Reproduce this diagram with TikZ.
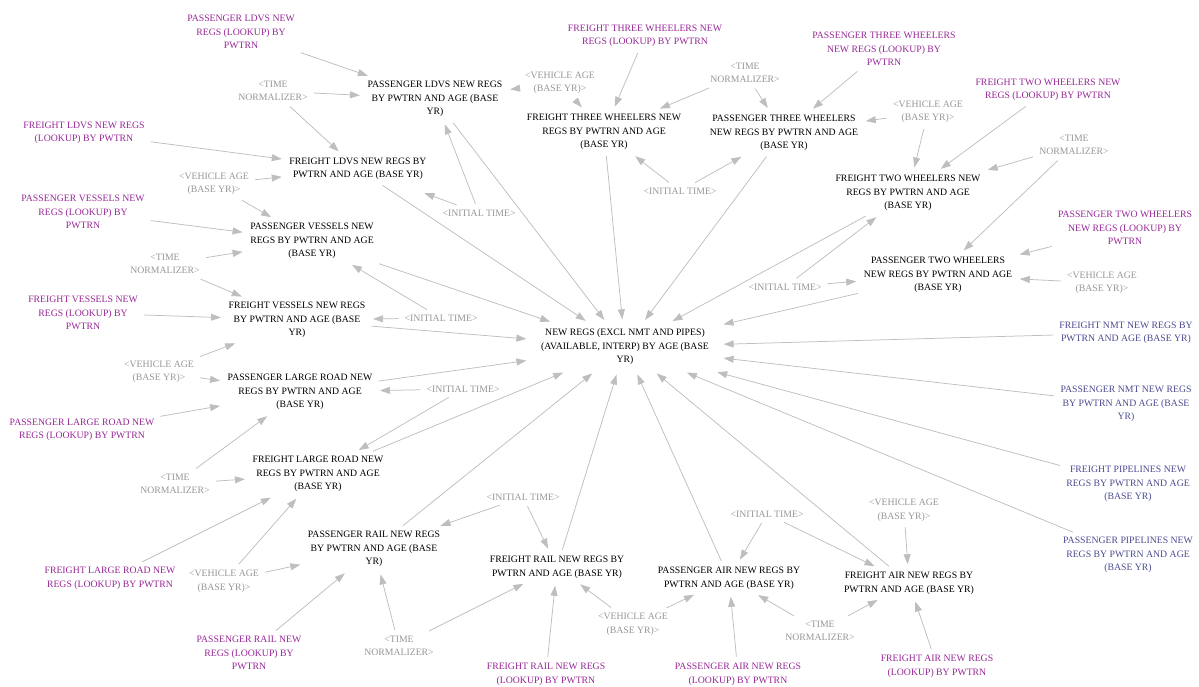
\documentclass[tikz,border=0pt]{standalone}
\usepackage{fontspec}
\setmainfont{Liberation Serif}
\usetikzlibrary{arrows.meta}
\definecolor{lookc}{RGB}{150,40,150}
\definecolor{bluc}{RGB}{75,75,145}
\definecolor{shadc}{RGB}{150,150,150}
\definecolor{arrc}{RGB}{190,190,190}
\begin{document}
\begin{tikzpicture}[x=1pt,y=-1pt,
  every node/.style={font=\fontsize{9.75}{13.6}\selectfont, align=center, inner sep=4pt},
  var/.style={text=black},
  look/.style={text=lookc},
  blu/.style={text=bluc},
  shad/.style={text=shadc},
  arr/.style={draw=arrc, line width=0.75pt, -{Triangle[length=10pt,width=7pt]}, shorten >=3.5pt, shorten <=2pt}]
\path[use as bounding box] (0,0) rectangle (1199,686);

% main
\node[var, inner xsep=11pt, inner ysep=6pt] (main) at (625,347) {NEW REGS (EXCL NMT AND PIPES)\\(AVAILABLE, INTERP) BY AGE (BASE\\YR)};

% black variables
\node[var] (pldv) at (435,99) {PASSENGER LDVS NEW REGS\\BY PWTRN AND AGE (BASE\\YR)};
\node[var] (f3) at (604,132) {FREIGHT THREE WHEELERS NEW\\REGS BY PWTRN AND AGE\\(BASE YR)};
\node[var] (p3) at (784,133) {PASSENGER THREE WHEELERS\\NEW REGS BY PWTRN AND AGE\\(BASE YR)};
\node[var] (f2) at (908,193) {FREIGHT TWO WHEELERS NEW\\REGS BY PWTRN AND AGE\\(BASE YR)};
\node[var] (p2) at (938,275) {PASSENGER TWO WHEELERS\\NEW REGS BY PWTRN AND AGE\\(BASE YR)};
\node[var] (fldv) at (358,169) {FREIGHT LDVS NEW REGS BY\\PWTRN AND AGE (BASE YR)};
\node[var] (pv) at (312,241) {PASSENGER VESSELS NEW\\REGS BY PWTRN AND AGE\\(BASE YR)};
\node[var] (fv) at (297,320) {FREIGHT VESSELS NEW REGS\\BY PWTRN AND AGE (BASE\\YR)};
\node[var] (plr) at (300,392) {PASSENGER LARGE ROAD NEW\\REGS BY PWTRN AND AGE\\(BASE YR)};
\node[var] (flr) at (318,474) {FREIGHT LARGE ROAD NEW\\REGS BY PWTRN AND AGE\\(BASE YR)};
\node[var] (pr) at (374,549) {PASSENGER RAIL NEW REGS\\BY PWTRN AND AGE (BASE\\YR)};
\node[var] (fr) at (557,567) {FREIGHT RAIL NEW REGS BY\\PWTRN AND AGE (BASE YR)};
\node[var] (pa) at (729,578) {PASSENGER AIR NEW REGS BY\\PWTRN AND AGE (BASE YR)};
\node[var] (fa) at (909,583) {FREIGHT AIR NEW REGS BY\\PWTRN AND AGE (BASE YR)};

% lookups
\node[look] (pll) at (241,32) {PASSENGER LDVS NEW\\REGS (LOOKUP) BY\\PWTRN};
\node[look] (fll) at (84,133) {FREIGHT LDVS NEW REGS\\(LOOKUP) BY PWTRN};
\node[look] (pvl) at (83,212) {PASSENGER VESSELS NEW\\REGS (LOOKUP) BY\\PWTRN};
\node[look] (fvl) at (83,313) {FREIGHT VESSELS NEW\\REGS (LOOKUP) BY\\PWTRN};
\node[look] (plrl) at (82,430) {PASSENGER LARGE ROAD NEW\\REGS (LOOKUP) BY PWTRN};
\node[look] (flrl) at (110,578) {FREIGHT LARGE ROAD NEW\\REGS (LOOKUP) BY PWTRN};
\node[look] (prl) at (249,653) {PASSENGER RAIL NEW\\REGS (LOOKUP) BY\\PWTRN};
\node[look] (frl) at (546,674) {FREIGHT RAIL NEW REGS\\(LOOKUP) BY PWTRN};
\node[look] (pal) at (738,674) {PASSENGER AIR NEW REGS\\(LOOKUP) BY PWTRN};
\node[look] (fal) at (937,666) {FREIGHT AIR NEW REGS\\(LOOKUP) BY PWTRN};
\node[look] (f3l) at (645,36) {FREIGHT THREE WHEELERS NEW\\REGS (LOOKUP) BY PWTRN};
\node[look] (p3l) at (884,49) {PASSENGER THREE WHEELERS\\NEW REGS (LOOKUP) BY\\PWTRN};
\node[look] (f2l) at (1048,90) {FREIGHT TWO WHEELERS NEW\\REGS (LOOKUP) BY PWTRN};
\node[look] (p2l) at (1125,228) {PASSENGER TWO WHEELERS\\NEW REGS (LOOKUP) BY\\PWTRN};

% blue
\node[blu] (fnmt) at (1126,333) {FREIGHT NMT NEW REGS BY\\PWTRN AND AGE (BASE YR)};
\node[blu] (pnmt) at (1126,404) {PASSENGER NMT NEW REGS\\BY PWTRN AND AGE (BASE\\YR)};
\node[blu] (fpipe) at (1128,484) {FREIGHT PIPELINES NEW\\REGS BY PWTRN AND AGE\\(BASE YR)};
\node[blu] (ppipe) at (1128,555) {PASSENGER PIPELINES NEW\\REGS BY PWTRN AND AGE\\(BASE YR)};

% shadows
\node[shad] (tn1) at (273,91) {<TIME\\NORMALIZER>};
\node[shad] (va1) at (560,83) {<VEHICLE AGE\\(BASE YR)>};
\node[shad] (tn2) at (745,73) {<TIME\\NORMALIZER>};
\node[shad] (it1) at (680,191) {<INITIAL TIME>};
\node[shad] (it2) at (479,213) {<INITIAL TIME>};
\node[shad] (va2) at (928,112) {<VEHICLE AGE\\(BASE YR)>};
\node[shad] (tn3) at (1074,145) {<TIME\\NORMALIZER>};
\node[shad] (va3) at (214,184) {<VEHICLE AGE\\(BASE YR)>};
\node[shad] (tn4) at (165,264) {<TIME\\NORMALIZER>};
\node[shad] (it3) at (785,287) {<INITIAL TIME>};
\node[shad] (va4) at (1102,283) {<VEHICLE AGE\\(BASE YR)>};
\node[shad] (it4) at (441,318) {<INITIAL TIME>};
\node[shad] (va5) at (159,372) {<VEHICLE AGE\\(BASE YR)>};
\node[shad] (it5) at (463,389) {<INITIAL TIME>};
\node[shad] (tn5) at (175,484) {<TIME\\NORMALIZER>};
\node[shad] (va6) at (224,581) {<VEHICLE AGE\\(BASE YR)>};
\node[shad] (it6) at (523,497) {<INITIAL TIME>};
\node[shad] (tn6) at (399,646) {<TIME\\NORMALIZER>};
\node[shad] (va7) at (633,624) {<VEHICLE AGE\\(BASE YR)>};
\node[shad] (it7) at (767,514) {<INITIAL TIME>};
\node[shad] (va8) at (904,510) {<VEHICLE AGE\\(BASE YR)>};
\node[shad] (tn7) at (820,631) {<TIME\\NORMALIZER>};

% connectors to sub-variables
\foreach \s/\t in {pll/pldv, tn1/pldv, tn1/fldv, va1/pldv, va1/f3, f3l/f3, tn2/f3, tn2/p3,
  p3l/p3, va2/p3, va2/f2, f2l/f2, tn3/f2, tn3/p2, p2l/p2, va4/p2, it3/p2, it3/f2,
  it1/f3, it1/p3, it2/pldv, fll/fldv, va3/fldv, va3/pv, pvl/pv, tn4/pv, tn4/fv,
  it4/pv, it4/fv, fvl/fv, va5/fv, va5/plr, plrl/plr, it5/plr, it5/flr, tn5/plr, tn5/flr,
  flrl/flr, va6/flr, va6/pr, prl/pr, tn6/pr, tn6/fr, it6/pr, it6/fr, frl/fr, va7/fr,
  va7/pa, pal/pa, it7/pa, it7/fa, va8/fa, fal/fa, tn7/fa, tn7/pa}
  \draw[arr] (\s) -- (\t);
\draw[arr, shorten >=26pt] (it2) -- (fldv);

% connectors to main
\foreach \s in {pldv, f3, p3, f2, p2, fldv, pv, fv, plr, flr, pr, fr, pa, fa, fnmt, pnmt, fpipe, ppipe}
  \draw[arr] (\s) -- (main);
\end{tikzpicture}
\end{document}
